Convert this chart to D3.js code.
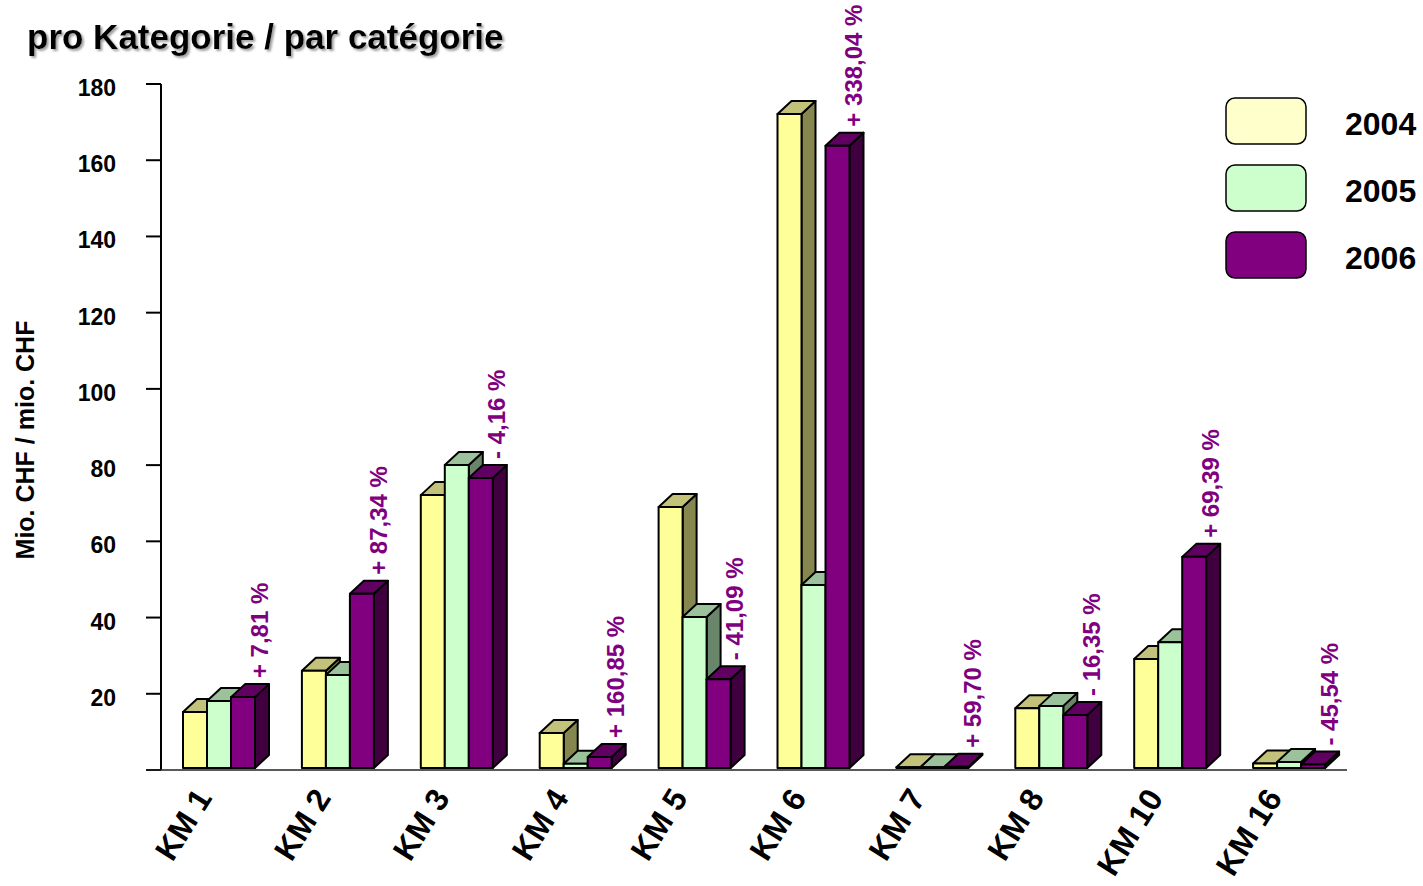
<!DOCTYPE html>
<html>
<head>
<meta charset="utf-8">
<script src="https://cdn.jsdelivr.net/npm/d3@7"></script>
<style>
  html, body { margin: 0; padding: 0; background: #fff; }
  svg { display: block; font-family: "Liberation Sans", Arial, sans-serif; }
</style>
</head>
<body>
<div id="chart"></div>
<script>
const categories = ['KM 1', 'KM 2', 'KM 3', 'KM 4', 'KM 5', 'KM 6', 'KM 7', 'KM 8', 'KM 10', 'KM 16'];
const years = ['2004', '2005', '2006'];
const values2004 = [14.7, 25.5, 71.6, 9.2, 68.5, 171.6, 0.2, 15.7, 28.6, 1.2];
const values2005 = [17.6, 24.4, 79.5, 1.1, 39.6, 48.0, 0.2, 16.3, 33.0, 1.6];
const values2006 = [18.6, 45.7, 76.1, 2.9, 23.3, 163.3, 0.3, 13.9, 55.4, 0.9];
const changeLabels = ['+ 7,81 %', '+ 87,34 %', '- 4,16 %', '+ 160,85 %', '- 41,09 %',
  '+ 338,04 %', '+ 59,70 %', '- 16,35 %', '+ 69,39 %', '- 45,54 %'];
const yTicks = [0, 20, 40, 60, 80, 100, 120, 140, 160, 180];

const width = 1423;
const height = 886;
const depthX = 14;
const depthY = 13;

// front / top / side shades per year
const colors = {
  '2004': { front: '#ffff99', top: '#c2c27a', side: '#86864f', legend: '#ffffcc' },
  '2005': { front: '#ccffcc', top: '#9cc29c', side: '#6a866a', legend: '#ccffcc' },
  '2006': { front: '#800080', top: '#600060', side: '#400040', legend: '#800080' }
};

const series = { '2004': values2004, '2005': values2005, '2006': values2006 };

const svg = d3.select('#chart')
  .append('svg')
  .attr('width', width)
  .attr('height', height);

const defs = svg.append('defs');
const shadow = defs.append('filter').attr('id', 'shadow')
  .attr('x', '-5%').attr('y', '-20%').attr('width', '110%').attr('height', '140%');
shadow.append('feDropShadow')
  .attr('dx', 2).attr('dy', 2).attr('stdDeviation', 1)
  .attr('flood-color', '#888').attr('flood-opacity', 0.8);

const x0 = d3.scaleBand()
  .domain(categories)
  .range([161, 1350]);

const x1 = d3.scaleBand()
  .domain(years)
  .range([22, 94]);

const y = d3.scaleLinear()
  .domain([0, 180])
  .range([770, 84]);

// title
svg.append('text')
  .attr('x', 27)
  .attr('y', 49)
  .style('font-size', '35px')
  .style('font-weight', 'bold')
  .attr('filter', 'url(#shadow)')
  .text('pro Kategorie / par catégorie');

// y axis title
svg.append('text')
  .attr('transform', 'translate(34,440) rotate(-90)')
  .attr('text-anchor', 'middle')
  .style('font-size', '25px')
  .style('font-weight', 'bold')
  .text('Mio. CHF / mio. CHF');

// y axis
svg.append('line')
  .attr('x1', 161).attr('x2', 161)
  .attr('y1', y(180)).attr('y2', y(0))
  .style('stroke', '#000').style('stroke-width', 2);

const ticks = svg.append('g');
ticks.selectAll('line')
  .data(yTicks)
  .join('line')
  .attr('x1', 146).attr('x2', 161)
  .attr('y1', d => y(d)).attr('y2', d => y(d))
  .style('stroke', '#000').style('stroke-width', 2);

ticks.selectAll('text')
  .data(yTicks.filter(d => d > 0))
  .join('text')
  .attr('x', 116)
  .attr('y', d => y(d) + 12)
  .attr('text-anchor', 'end')
  .style('font-size', '23px')
  .style('font-weight', 'bold')
  .text(d => d);

// x axis baseline
svg.append('line')
  .attr('x1', 146).attr('x2', 1347)
  .attr('y1', y(0)).attr('y2', y(0))
  .style('stroke', '#222').style('stroke-width', 1.5);

// 3d bars
const w = x1.bandwidth();
const base = y(0) - 2;
const bars = svg.append('g');

categories.forEach((cat, i) => {
  years.forEach(yr => {
    const v = series[yr][i];
    const bx = x0(cat) + x1(yr);
    const top = y(v) - 2;
    const g = bars.append('g')
      .style('stroke', '#000')
      .style('stroke-width', 2)
      .style('stroke-linejoin', 'round');

    g.append('polygon')
      .attr('points', [[bx + w, top], [bx + w + depthX, top - depthY],
        [bx + w + depthX, base - depthY], [bx + w, base]].join(' '))
      .style('fill', colors[yr].side);

    g.append('polygon')
      .attr('points', [[bx, top], [bx + depthX, top - depthY],
        [bx + w + depthX, top - depthY], [bx + w, top]].join(' '))
      .style('fill', colors[yr].top);

    g.append('rect')
      .attr('x', bx)
      .attr('y', top)
      .attr('width', w)
      .attr('height', Math.max(0, base - top))
      .style('fill', colors[yr].front);
  });
});

// change labels above 2006 bars
svg.append('g')
  .selectAll('text')
  .data(categories)
  .join('text')
  .attr('transform', (d, i) => {
    const cx = x0(d) + x1('2006') + w + 4;
    const cy = y(values2006[i]) - 2 - depthY - 6;
    return `translate(${cx},${cy}) rotate(-90)`;
  })
  .attr('dy', '0.36em')
  .style('font-size', '24px')
  .style('font-weight', 'bold')
  .style('fill', '#800080')
  .text((d, i) => changeLabels[i]);

// x labels
svg.append('g')
  .selectAll('text')
  .data(categories)
  .join('text')
  .attr('transform', d => `translate(${x0(d) + 58 - 6},798) rotate(-58)`)
  .attr('text-anchor', 'end')
  .style('font-size', '32px')
  .style('font-weight', 'bold')
  .text(d => d);

// legend
const legend = svg.append('g');
years.forEach((yr, i) => {
  const ly = 98 + i * 67;
  legend.append('rect')
    .attr('x', 1226).attr('y', ly)
    .attr('width', 80).attr('height', 46)
    .attr('rx', 9)
    .style('fill', colors[yr].legend)
    .style('stroke', '#000')
    .style('stroke-width', 1.5);
  legend.append('text')
    .attr('x', 1345)
    .attr('y', ly + 37)
    .style('font-size', '32px')
    .style('font-weight', 'bold')
    .text(yr);
});
</script>
</body>
</html>
